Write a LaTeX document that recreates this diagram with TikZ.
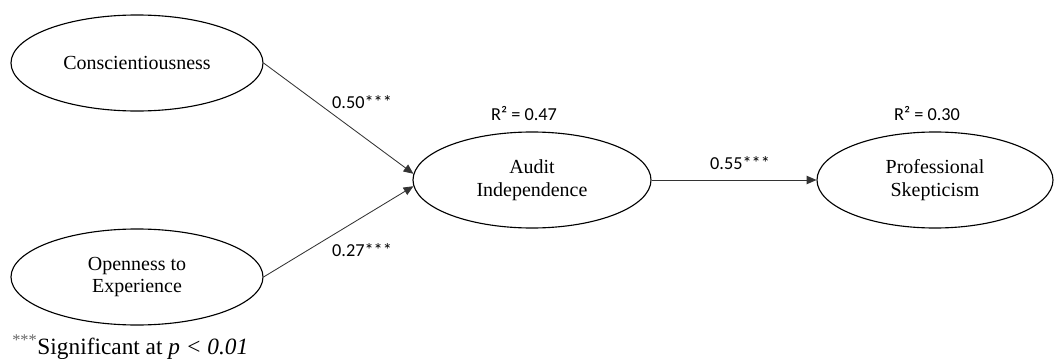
\documentclass[tikz,border=0pt]{standalone}
\usepackage{fontspec}
\setmainfont{Liberation Serif}
\newfontfamily\labelfont{Carlito}
\usepackage{tikz}
\usetikzlibrary{arrows.meta}
\usetikzlibrary{positioning}
\usetikzlibrary{shapes}

\begin{document}
\begin{tikzpicture}
          \useasboundingbox (0,0) rectangle (26.4,-8.975);
          \begin{scope}[every node/.style={ellipse,thick,draw,inner sep=0pt,align=center,font=\fontsize{14.2}{16}\selectfont}]
            \node[minimum width=6.3cm,minimum height=2.4cm] (consc) at (3.425,-1.575) {Conscientiousness};
            \node[minimum width=6.3cm,minimum height=2.4cm] (open) at (3.425,-6.925) {Openness to\\Experience};
            \node[minimum width=5.95cm,minimum height=2.4cm] (audit) at (13.3,-4.5) {Audit\\Independence};
            \node[minimum width=5.9cm,minimum height=2.4cm] (prof) at (23.375,-4.5) {Professional\\Skepticism};
          \end{scope}
          \begin{scope}[every edge/.style={draw=black!80,semithick,-{Triangle[length=7pt,width=6pt]}}]
            \path (consc.east) edge (audit.177);
            \path (open.east) edge (audit.183);
            \path (audit.east) edge (prof.west);
          \end{scope}
          \begin{scope}[every node/.style={font=\labelfont\fontsize{13}{14}\selectfont}]
            \node (b1) at (9.05,-2.55) {0.50***};
            \node (b2) at (9.05,-6.25) {0.27***};
            \node (b3) at (18.5,-4.075) {0.55***};
            \node[above=0.15cm of audit,xshift=-0.2cm] (r1) {R² = 0.47};
            \node[above=0.15cm of prof,xshift=-0.2cm] (r2) {R² = 0.30};
          \end{scope}
          \node[anchor=base west,inner sep=0pt,font=\fontsize{16.6}{18}\selectfont] (note) at (0.3,-8.85) {\textsuperscript{\color{black!60}***}Significant at \textit{p \textless{} 0.01}};
        \end{tikzpicture}
\end{document}
